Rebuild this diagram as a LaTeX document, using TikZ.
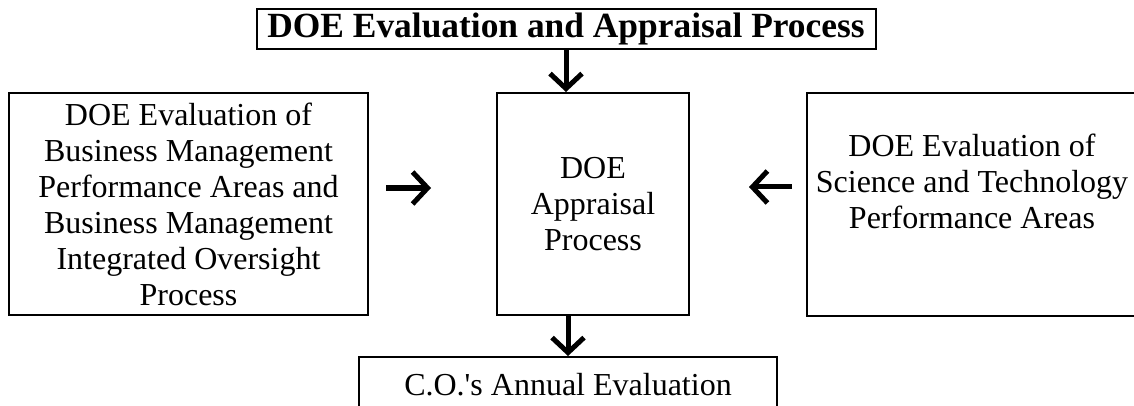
\documentclass[tikz,border=0pt]{standalone}
\usepackage{fontspec}
\setmainfont{Liberation Serif}
\usetikzlibrary{arrows.meta}

\tikzset{
  box/.style={draw, line width=2pt, align=center, inner sep=0pt,
    font=\fontsize{32}{36}\selectfont},
  arr/.style={line width=5pt, -{Straight Barb[length=15pt,width=32pt]}},
}

\begin{document}
\begin{tikzpicture}[x=1pt, y=-1pt]
    \useasboundingbox (0,0) rectangle (1134,406);
    % boxes
    \node[box, minimum width=619pt, minimum height=40pt,
      font=\bfseries\fontsize{35.4}{40}\selectfont] (eap) at (566,29) {DOE Evaluation and Appraisal Process};
    \node[box, minimum width=359pt, minimum height=222pt] (bm) at (188.5,204)
      {DOE Evaluation of\\Business Management\\Performance Areas and\\Business Management\\Integrated Oversight\\Process};
    \node[box, minimum width=192pt, minimum height=222pt] (doe) at (593,204)
      {DOE\\Appraisal\\Process};
    \node[box, minimum width=330pt, minimum height=223pt] (st) at (972,204.5)
      {DOE Evaluation of\\Science and Technology\\Performance Areas\\\rule[-10pt]{0pt}{10pt}};
    \node[box, minimum width=418pt, minimum height=55pt, text height=21pt, text depth=0pt] (coe) at (568,384.5)
      {C.O.\textquotesingle s Annual Evaluation};
    % arrows
    \draw[arr] (eap.south) -- (eap.south |- doe.north);
    \draw[arr] (doe.south -| coe.north) -- (coe.north);
    \draw[arr] ([shift={(17,-16)}]bm.east) -- ([shift={(-65,-16)}]doe.west);
    \draw[arr] ([shift={(-14,-17.5)}]st.west) -- ([shift={(59,-17)}]doe.east);
\end{tikzpicture}
\end{document}
